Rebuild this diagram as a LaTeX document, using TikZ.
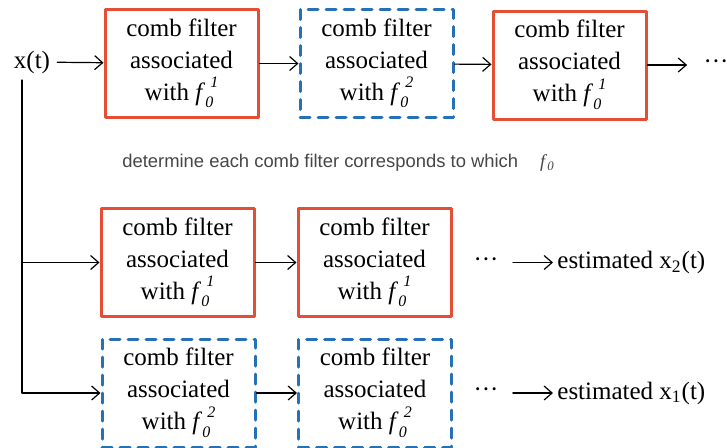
\documentclass[tikz,border=0pt]{standalone}
\usepackage{fontspec}
\setmainfont{Liberation Serif}
\newfontfamily\notefont{Liberation Sans}
\usepackage{xcolor}
\usetikzlibrary{arrows.meta}

\definecolor{boxred}{RGB}{228,78,52}
\definecolor{boxblue}{RGB}{38,112,182}
\definecolor{notegray}{RGB}{70,70,70}

% f_0 with an upper index, all italic
\newcommand{\fz}[1]{\textit{f}\raisebox{-0.3em}{\footnotesize\textit{0}}\kern-0.12em\raisebox{0.5em}{\footnotesize\textit{#1}}}

\tikzset{
  redbox/.style={draw=boxred, line width=1.5pt, minimum width=76.5pt, minimum height=54pt, align=center, inner sep=0pt},
  bluebox/.style={redbox, draw=boxblue, dash pattern=on 5pt off 4pt},
  arr/.style={-{Straight Barb[length=4pt,width=7pt]}, line width=0.6pt},
  plain/.style={inner sep=2pt}
}

\begin{document}
\begin{tikzpicture}[line cap=round,line join=round,x=0.5pt,y=0.5pt,font=\fontsize{12.5}{16}\selectfont]
\useasboundingbox (0,0) rectangle (727,447);

% input
\node (xin) at (32,385) {x(t)};
\coordinate (tap) at (22,367);

% first row
\node[redbox]  (cf11) at (181.5,383.5) {comb filter\\associated\\with \fz{1}};
\node[bluebox] (cf12) at (376.5,383.5) {comb filter\\associated\\with \fz{2}};
\node[redbox]  (cf13) at (569.5,382) {comb filter\\associated\\with \fz{1}};
\node[plain] (dots1) at (716,382) {\textperiodcentered\textperiodcentered\textperiodcentered};

\draw[arr] (xin) -- (cf11);
\draw[arr] (cf11) -- (cf12);
\draw[arr] (cf12) -- (cf13);
\draw[arr,shorten >=6pt] (cf13) -- (dots1);

% note between the rows
\node[anchor=west, inner sep=0pt, text=notegray] (note) at (122,284)
  {\notefont\fontsize{9.2}{11}\selectfont determine each comb filter corresponds to which\hspace{11pt}\rmfamily\textit{f}\textsubscript{\textit{0}}};

% second row
\node[redbox] (cf21) at (177.5,184.5) {comb filter\\associated\\with \fz{1}};
\node[redbox] (cf22) at (374.5,184.5) {comb filter\\associated\\with \fz{1}};
\node[plain] (dots2) at (486,184.5) {\textperiodcentered\textperiodcentered\textperiodcentered};
\node[plain, anchor=west] (est2) at (553,184.5) {estimated x\textsubscript{2}(t)};

% third row
\node[bluebox] (cf31) at (178.5,54) {comb filter\\associated\\with \fz{2}};
\node[bluebox] (cf32) at (375,54) {comb filter\\associated\\with \fz{2}};
\node[plain] (dots3) at (486,54) {\textperiodcentered\textperiodcentered\textperiodcentered};
\node[plain, anchor=west] (est1) at (553,54) {estimated x\textsubscript{1}(t)};

% branches off the input
\draw[arr] (tap) |- (cf31);
\draw[arr] (tap |- cf21) -- (cf21);
\draw[arr] (cf21) -- (cf22);
\draw[arr] (cf31) -- (cf32);
\draw[arr,shorten <=5pt] (dots2) -- (est2);
\draw[arr,shorten <=5pt] (dots3) -- (est1);
\end{tikzpicture}
\end{document}
